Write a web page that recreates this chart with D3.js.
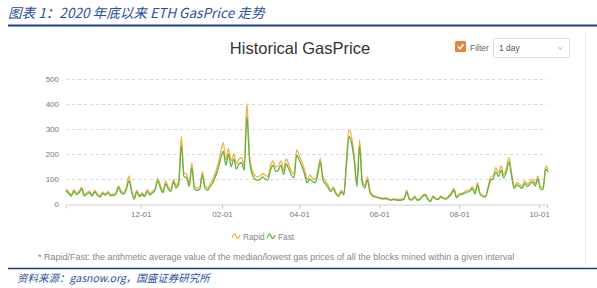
<!DOCTYPE html>
<html>
<head>
<meta charset="utf-8">
<script src="https://cdn.jsdelivr.net/npm/d3@7"></script>
<style>
  body { margin: 0; background: #fff; }
  svg { display: block; }
  .cap { font-family: "Noto Sans CJK SC", sans-serif; font-style: italic; fill: #2c4f9e; }
  .axis text { font-family: "Liberation Sans", Arial, sans-serif; font-size: 8px; fill: #777; }
</style>
</head>
<body>
<script>
// start date, one value every 2 days
var startDate = new Date(2020, 9, 5);
var endDate = new Date(2021, 9, 7);

var fast = [
  55,42,32,50,38,45,60,32,40,45,
  32,48,35,28,42,35,45,33,35,38,
  66,45,40,58,92,50,20,48,30,38,
  30,50,36,45,55,92,65,45,80,60,
  50,88,65,80,232,110,105,70,145,60,
  55,58,115,65,55,70,85,110,140,180,
  210,155,200,150,180,140,160,165,135,350,
  175,120,100,95,98,108,100,96,135,155,
  130,135,155,118,160,140,115,105,195,175,
  150,120,85,100,90,85,115,168,96,80,
  65,50,60,40,30,48,36,160,270,240,
  170,70,229,85,65,95,45,32,28,25,
  22,20,22,18,15,18,16,15,16,20,
  48,18,16,27,15,18,30,35,20,10,
  28,20,18,28,22,20,28,40,55,25,
  36,38,43,48,50,62,40,75,38,30,
  28,60,95,102,128,110,135,105,128,168,
  110,62,76,70,62,82,70,80,88,72,
  100,60,58,140,128
];

var rapid = [
  62,48,38,57,44,52,66,38,46,52,
  38,55,40,33,48,40,50,38,40,44,
  72,52,46,65,112,58,25,55,35,44,
  35,57,42,52,62,102,75,52,92,70,
  58,98,75,92,270,125,120,80,165,70,
  64,66,128,75,64,80,98,125,160,205,
  245,178,222,172,200,160,180,185,155,402,
  195,138,115,108,112,122,115,110,152,172,
  148,152,172,135,180,158,132,120,216,195,
  168,138,98,115,104,98,130,182,110,92,
  75,58,68,46,35,55,42,182,298,265,
  190,80,256,98,75,108,52,37,32,29,
  26,23,25,21,18,21,19,18,19,23,
  55,21,19,31,18,21,34,40,23,12,
  32,23,21,32,25,23,32,46,62,29,
  41,43,49,55,57,70,46,85,43,35,
  32,68,107,115,145,125,152,118,145,185,
  125,70,86,79,70,92,79,90,100,82,
  112,68,66,152,140
];

var xTicks = ["2020-12-01","2021-02-01","2021-04-01","2021-06-01","2021-08-01","2021-10-01"];
var yTicks = [0,100,200,300,400,500];
var seriesNames = ["Rapid","Fast"];
var seriesColors = ["#f2b443","#62b14a"];

var W = 597, H = 288;
var margin = {top: 79, right: 50, bottom: 84, left: 66},
    width = W - margin.left - margin.right,
    height = H - margin.top - margin.bottom;

var svg = d3.select("body").append("svg")
    .attr("width", W)
    .attr("height", H);

// caption and rules
svg.append("text").attr("class","cap").attr("x",8).attr("y",18)
    .style("font-size","13.6px")
    .text("图表 1：2020 年底以来 ETH GasPrice 走势");
svg.append("line").attr("x1",8).attr("x2",597).attr("y1",25.5).attr("y2",25.5)
    .attr("stroke","#1f3d8c").attr("stroke-width",2);
svg.append("line").attr("x1",8).attr("x2",597).attr("y1",268.5).attr("y2",268.5)
    .attr("stroke","#1f3d8c").attr("stroke-width",1.5);
svg.append("text").attr("class","cap").attr("x",17).attr("y",282)
    .style("font-size","10.5px")
    .text("资料来源：gasnow.org，国盛证券研究所");

// card edge
svg.append("line").attr("x1",585.5).attr("x2",585.5).attr("y1",30).attr("y2",266)
    .attr("stroke","#eeeeee");

// title
svg.append("text").attr("x",300).attr("y",54)
    .attr("text-anchor","middle")
    .style("font-family","Liberation Sans, Arial, sans-serif")
    .style("font-size","16.5px").style("fill","#333")
    .text("Historical GasPrice");

// filter checkbox + select
svg.append("rect").attr("x",455).attr("y",41).attr("width",11).attr("height",11)
    .attr("rx",1.5).attr("fill","#e8823a");
svg.append("path").attr("d","M457.8,46.5 L460,48.8 L463.5,44.3")
    .attr("fill","none").attr("stroke","#fff").attr("stroke-width",1.5);
svg.append("text").attr("x",470).attr("y",50.5)
    .style("font-family","Liberation Sans, Arial, sans-serif")
    .style("font-size","8.5px").style("fill","#666").text("Filter");
svg.append("rect").attr("x",493.5).attr("y",38.5).attr("width",76).attr("height",19)
    .attr("rx",2).attr("fill","#fff").attr("stroke","#ddd");
svg.append("text").attr("x",499).attr("y",51)
    .style("font-family","Liberation Sans, Arial, sans-serif")
    .style("font-size","8.5px").style("fill","#555").text("1 day");
svg.append("path").attr("d","M558.5,47 L560.5,49.5 L562.5,47")
    .attr("fill","none").attr("stroke","#aaa").attr("stroke-width",0.8);

var g = svg.append("g")
    .attr("transform","translate(" + margin.left + "," + margin.top + ")");

var x = d3.scaleTime().domain([startDate, endDate]).range([0, width]);
var y = d3.scaleLinear().domain([0, 500]).range([height, 0]);

// grid
g.append("g").selectAll("line")
    .data(yTicks.filter(function(d){ return d > 0; }))
    .enter().append("line")
    .attr("x1",0).attr("x2",width)
    .attr("y1",function(d){ return Math.round(y(d)) + 0.5; })
    .attr("y2",function(d){ return Math.round(y(d)) + 0.5; })
    .attr("stroke","#d6d6d6").attr("stroke-dasharray","3,3");

// axes
var yAxis = g.append("g").attr("class","axis")
    .call(d3.axisLeft(y).tickValues(yTicks).tickSize(0).tickPadding(7));
yAxis.select(".domain").remove();

var parse = d3.timeParse("%Y-%m-%d");
var xAxis = g.append("g").attr("class","axis")
    .attr("transform","translate(0," + (height + 0.5) + ")")
    .call(d3.axisBottom(x).tickValues(xTicks.map(parse))
        .tickFormat(d3.timeFormat("%m-%d")).tickSize(4).tickPadding(3));
xAxis.select(".domain").attr("stroke","#ccc");
xAxis.selectAll(".tick line").attr("stroke","#ccc");

// lines
function dateOf(i){ return d3.timeDay.offset(startDate, 2 * i); }
var line = d3.line()
    .x(function(d, i){ return x(dateOf(i)); })
    .y(function(d){ return y(d); })
    .curve(d3.curveMonotoneX);

[rapid, fast].forEach(function(s, k){
  g.append("path").datum(s)
    .attr("fill","none")
    .attr("stroke", seriesColors[k])
    .attr("stroke-width",1.3)
    .attr("stroke-linejoin","round")
    .attr("d", line);
});

// legend
var legend = svg.append("g").attr("transform","translate(232,237)");
var lx = [0, 35];
seriesNames.forEach(function(n, k){
  var lg = legend.append("g").attr("transform","translate(" + lx[k] + ",0)");
  lg.append("path").attr("d","M0,1 C2,-4 3,-4 4,-1 S6,3 8,-2")
    .attr("fill","none").attr("stroke",seriesColors[k]).attr("stroke-width",1.3);
  lg.append("text").attr("x",11).attr("y",2.5)
    .style("font-family","Liberation Sans, Arial, sans-serif")
    .style("font-size","8.3px").style("fill","#888").text(n);
});

// footnote
svg.append("text").attr("x",38).attr("y",260)
    .style("font-family","Liberation Sans, Arial, sans-serif")
    .style("font-size","9px").style("fill","#888")
    .text("* Rapid/Fast: the arithmetic average value of the median/lowest gas prices of all the blocks mined within a given interval");
</script>
</body>
</html>
